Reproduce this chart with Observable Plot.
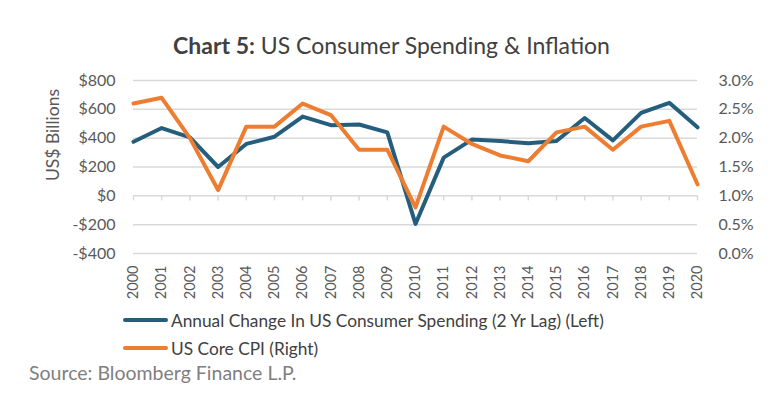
<!DOCTYPE html>
<html>
<head>
<meta charset="utf-8">
<script src="https://cdn.jsdelivr.net/npm/d3@7"></script>
<script src="https://cdn.jsdelivr.net/npm/@observablehq/plot@0.6"></script>
<style>
  body { margin: 0; background: #fff; font-family: Lato, "Open Sans", sans-serif; }
  #wrap { width: 783px; height: 395px; overflow: hidden; position: relative; }
  #title { height: 65px; box-sizing: border-box; padding-top: 32px; text-align: center; font-size: 23px; line-height: 26px; color: #404040; padding-left: 0px; }
  #title b { font-weight: 700; }
  #legend { padding-top: 3px; }
  .row { height: 28px; display: flex; align-items: center; font-size: 17.3px; color: #404040; }
  .sw { display: inline-block; width: 45px; height: 4px; border-radius: 2px; margin-left: 123px; margin-right: 3px; }
  #source { height: 21px; line-height: 21px; padding-left: 29px; font-size: 19.5px; color: #7f7f7f; }
  svg { display: block; }
</style>
</head>
<body>
<div id="wrap">
  <div id="title"><b>Chart 5:</b> US Consumer Spending &amp; Inflation</div>
  <div id="chart"></div>
  <div id="legend"></div>
  <div id="source">Source: Bloomberg Finance L.P.</div>
</div>
<script>
const years = [2000,2001,2002,2003,2004,2005,2006,2007,2008,2009,2010,2011,2012,2013,2014,2015,2016,2017,2018,2019,2020];
// Annual change in US consumer spending (2 yr lag), US$ billions (left axis)
const spending = [375,470,405,200,360,410,550,490,495,440,-195,265,390,380,365,380,540,385,575,645,475];
// US core CPI, % (right axis)
const coreCpi = [2.6,2.7,2.0,1.1,2.2,2.2,2.6,2.4,1.8,1.8,0.8,2.2,1.9,1.7,1.6,2.1,2.2,1.8,2.2,2.3,1.2];
const leftTicks = [-400,-200,0,200,400,600,800];
const rightTicks = [0.0,0.5,1.0,1.5,2.0,2.5,3.0];
const seriesNames = ["Annual Change In US Consumer Spending (2 Yr Lag) (Left)", "US Core CPI (Right)"];
const colors = ["#255e7d", "#ed7d31"];

// right-axis % mapped onto the left-axis dollar scale: 0% -> -$400, 3% -> $800
const pctToUsd = p => p * 400 - 400;

const rowsSpend = years.map((y, i) => ({year: y, value: spending[i]}));
const rowsCpi = years.map((y, i) => ({year: y, value: coreCpi[i]}));

const fmtUsd = d => (d < 0 ? "-$" : "$") + Math.abs(d);
const grid = "#d9d9d9";

const plot = Plot.plot({
  width: 783,
  height: 238,
  marginTop: 15,
  marginBottom: 50,
  marginLeft: 133,
  marginRight: 86,
  style: {fontFamily: "Lato, sans-serif", fontSize: "16px", color: "#595959", background: "#fff"},
  x: {domain: [2000, 2020], axis: null},
  y: {domain: [-400, 800], axis: null},
  marks: [
    Plot.ruleY(leftTicks, {y: d => d, x1: 2000, x2: 2020, stroke: grid, strokeWidth: 1.5}),
    Plot.ruleX(years, {x: d => d, y1: 0, y2: -35, stroke: grid, strokeWidth: 1.5}),
    Plot.axisX(years, {anchor: "bottom", tickSize: 0, tickPadding: 12, tickRotate: -90, tickFormat: d => String(d), label: null, fontSize: 14.5}),
    Plot.axisY(leftTicks, {anchor: "left", tickSize: 0, tickPadding: 18, tickFormat: fmtUsd, label: null}),
    Plot.axisY(rightTicks.map(pctToUsd), {anchor: "right", tickSize: 0, tickPadding: 21, tickFormat: (d, i) => rightTicks[i].toFixed(1) + "%", label: null}),
    Plot.text(["US$ Billions"], {frameAnchor: "left", textAnchor: "middle", dx: -80, dy: -32, rotate: -90, fontSize: 17.5, fill: "#595959"}),
    Plot.line(rowsSpend, {x: "year", y: "value", stroke: colors[0], strokeWidth: 4, strokeLinejoin: "round", strokeLinecap: "round"}),
    Plot.line(rowsCpi, {x: "year", y: d => pctToUsd(d.value), stroke: colors[1], strokeWidth: 4, strokeLinejoin: "round", strokeLinecap: "round"})
  ]
});
document.getElementById("chart").appendChild(plot);

const legend = document.getElementById("legend");
seriesNames.forEach((name, i) => {
  const row = document.createElement("div");
  row.className = "row";
  const sw = document.createElement("span");
  sw.className = "sw";
  sw.style.background = colors[i];
  const t = document.createElement("span");
  t.textContent = name;
  row.appendChild(sw);
  row.appendChild(t);
  legend.appendChild(row);
});
</script>
</body>
</html>
